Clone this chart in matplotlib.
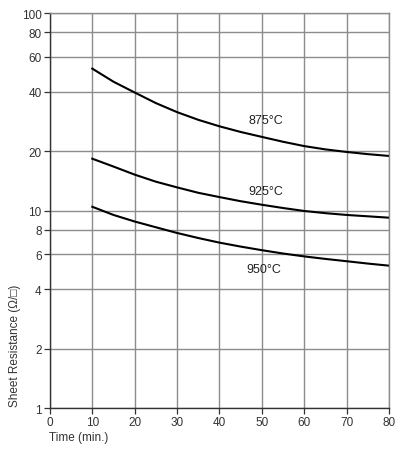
import matplotlib.pyplot as plt

plt.rcParams['font.family'] = ['Liberation Sans', 'DejaVu Sans']

time_min = [10, 15, 20, 25, 30, 35, 40, 45, 50, 55, 60, 65, 70, 75, 80]
r_875 = [52.3, 44.9, 39.6, 35.0, 31.5, 28.8, 26.7, 25.0, 23.6, 22.3, 21.2, 20.4, 19.8, 19.3, 18.9]
r_925 = [18.3, 16.7, 15.2, 14.0, 13.1, 12.3, 11.7, 11.15, 10.7, 10.3, 9.95, 9.7, 9.5, 9.35, 9.2]
r_950 = [10.45, 9.5, 8.8, 8.23, 7.7, 7.26, 6.88, 6.57, 6.3, 6.06, 5.86, 5.69, 5.54, 5.39, 5.26]

curves = [("875°C", r_875, (50.9, 28.7)), ("925°C", r_925, (50.9, 12.6)), ("950°C", r_950, (50.6, 5.07))]

x_ticks = [0, 10, 20, 30, 40, 50, 60, 70, 80]
y_ticks = [1, 2, 4, 6, 8, 10, 20, 40, 60, 80, 100]

fig = plt.figure(figsize=(3.96, 4.52), dpi=100)
ax = fig.add_axes([0.126, 0.095, 0.856, 0.874])

ax.set_yscale('log')
ax.set_xlim(0, 80)
ax.set_ylim(1, 100)
ax.set_xticks(x_ticks)
ax.set_yticks(y_ticks)
ax.set_yticklabels([str(v) for v in y_ticks])
ax.yaxis.set_minor_locator(plt.NullLocator())
ax.grid(True, color='#8c8c8c', linewidth=1.0)
ax.set_axisbelow(True)
ax.tick_params(labelsize=8.5, length=4, width=0.9, color='#333333', labelcolor='#333333', pad=2)

for spine in ax.spines.values():
    spine.set_color('#8c8c8c')
    spine.set_linewidth(1.0)
ax.spines['left'].set_color('#333333')
ax.spines['bottom'].set_color('#333333')

for label, vals, (lx, ly) in curves:
    ax.plot(time_min, vals, color='black', linewidth=1.5, solid_joinstyle='round')
    ax.text(lx, ly, label, fontsize=9, color='#222222', ha='center', va='center')

fig.text(0.124, 0.031, "Time (min.)", fontsize=8.5, color='#333333', ha='left', va='center')
fig.text(0.038, 0.099, "Sheet Resistance (Ω/□)", fontsize=8.5, color='#333333',
         rotation=90, ha='center', va='bottom')

fig.savefig('out.png', dpi=100)
